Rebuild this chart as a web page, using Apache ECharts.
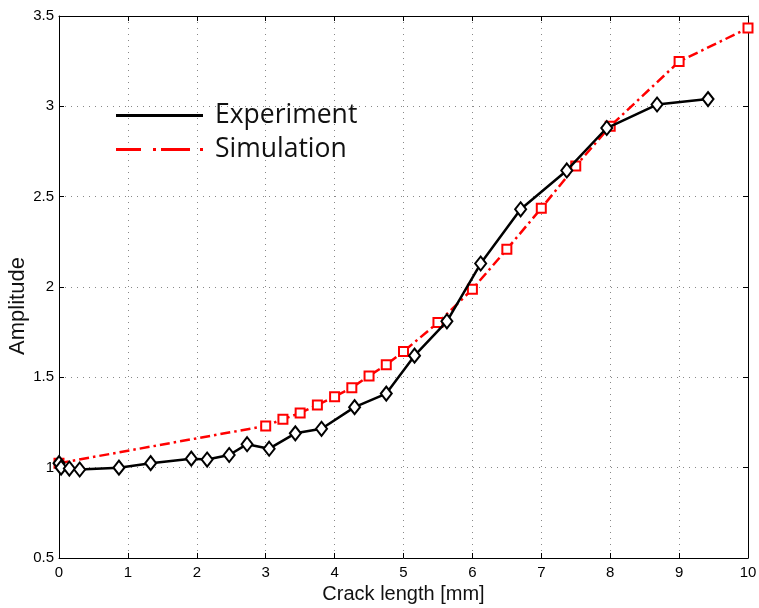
<!DOCTYPE html>
<html>
<head>
<meta charset="utf-8">
<script src="https://cdn.jsdelivr.net/npm/echarts@6/dist/echarts.min.js"></script>
<style>
  html, body { margin: 0; padding: 0; background: #fff; }
  #chart { width: 759px; height: 608px; }
</style>
</head>
<body>
<div id="chart"></div>
<script>
// Measured amplitude versus crack length
const expX = [0, 0.03, 0.15, 0.30, 0.87, 1.33, 1.92, 2.15, 2.47, 2.73, 3.05, 3.43, 3.81, 4.29, 4.75, 5.16, 5.63, 6.12, 6.70, 7.37, 7.95, 8.68, 9.42];
const expY = [1.025, 1.00, 0.995, 0.99, 1.00, 1.025, 1.05, 1.045, 1.07, 1.13, 1.105, 1.19, 1.215, 1.335, 1.41, 1.62, 1.81, 2.13, 2.43, 2.645, 2.88, 3.01, 3.04];

// Simulated amplitude versus crack length
const simX = [0, 3, 3.25, 3.5, 3.75, 4, 4.25, 4.5, 4.75, 5, 5.5, 6, 6.5, 7, 7.5, 8, 9, 10];
const simY = [1.025, 1.231, 1.268, 1.303, 1.347, 1.393, 1.443, 1.508, 1.570, 1.643, 1.803, 1.988, 2.209, 2.436, 2.67, 2.89, 3.248, 3.433];

const seriesNames = ['Experiment', 'Simulation'];
const xTitle = 'Crack length [mm]';
const yTitle = 'Amplitude';

const pairs = (xs, ys) => xs.map((x, i) => [x, ys[i]]);

const tickFont = { fontFamily: 'Liberation Sans, Arial, sans-serif', fontSize: 15, color: '#000' };
const dotted = { show: true, lineStyle: { color: '#888', width: 1, type: [1, 5] } };
const frameLine = { show: true, onZero: false, lineStyle: { color: '#000', width: 1 } };
const innerTick = { show: true, inside: true, length: 5, lineStyle: { color: '#000', width: 1 } };

const chart = echarts.init(document.getElementById('chart'));
chart.setOption({
  backgroundColor: '#fff',
  animation: false,
  grid: { left: 59, right: 11, top: 16, bottom: 50, containLabel: false, outerBoundsMode: 'none' },
  legend: {
    left: 111,
    top: 97,
    orient: 'vertical',
    itemWidth: 87,
    itemHeight: 3,
    itemGap: 7,
    selectedMode: false,
    textStyle: {
      fontFamily: 'Open Sans, Noto Sans, sans-serif',
      fontSize: 26.5,
      color: '#111',
      padding: [0, 0, 0, 7]
    },
    data: [
      { name: seriesNames[0], icon: 'rect',
        itemStyle: { color: '#000', borderWidth: 0 } },
      { name: seriesNames[1],
        icon: 'path://M0,0H25V3H0Z M37,0H40V3H37Z M45,0H74V3H45Z M84,0H87V3H84Z',
        itemStyle: { color: '#ff0000', borderWidth: 0 } }
    ]
  },
  xAxis: [
    {
      type: 'value', min: 0, max: 10, interval: 1, position: 'bottom',
      name: xTitle, nameLocation: 'middle', nameGap: 26, nameMoveOverlap: false,
      nameTextStyle: { fontFamily: 'Liberation Sans, Arial, sans-serif', fontSize: 20, color: '#111' },
      axisLine: frameLine, axisTick: innerTick,
      axisLabel: Object.assign({ margin: 7 }, tickFont),
      splitLine: dotted
    },
    {
      type: 'value', min: 0, max: 10, interval: 1, position: 'top',
      axisLine: frameLine, axisTick: innerTick,
      axisLabel: { show: false }, splitLine: { show: false }
    }
  ],
  yAxis: [
    {
      type: 'value', min: 0.5, max: 3.5, interval: 0.5, position: 'left',
      name: yTitle, nameLocation: 'middle', nameGap: 30, nameMoveOverlap: false,
      nameTextStyle: {
        fontFamily: 'Liberation Sans, Arial, sans-serif', fontSize: 22, color: '#111',
        padding: [0, 38, 0, 0]
      },
      axisLine: frameLine, axisTick: innerTick,
      axisLabel: Object.assign({ margin: 5 }, tickFont),
      splitLine: dotted
    },
    {
      type: 'value', min: 0.5, max: 3.5, interval: 0.5, position: 'right',
      axisLine: frameLine, axisTick: innerTick,
      axisLabel: { show: false }, splitLine: { show: false }
    }
  ],
  series: [
    {
      name: seriesNames[1],
      type: 'line',
      data: pairs(simX, simY),
      z: 2,
      symbol: 'emptyRect',
      symbolSize: 9,
      lineStyle: { color: '#ff0000', width: 2.5, type: [10, 4, 2.5, 4] },
      itemStyle: { color: '#ff0000', borderColor: '#ff0000', borderWidth: 2 }
    },
    {
      name: seriesNames[0],
      type: 'line',
      data: pairs(expX, expY),
      z: 3,
      symbol: 'emptyDiamond',
      symbolSize: [11, 14],
      lineStyle: { color: '#000', width: 2.5 },
      itemStyle: { color: '#000', borderColor: '#000', borderWidth: 2.4 }
    }
  ]
});
</script>
</body>
</html>
